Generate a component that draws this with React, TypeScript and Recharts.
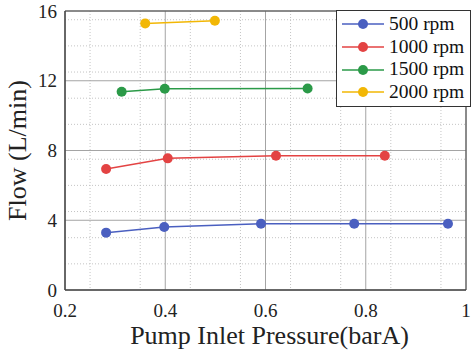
import React from "react";
import {
  CartesianGrid,
  Line,
  LineChart,
  ReferenceArea,
  XAxis,
  YAxis,
} from "recharts";

// Flow vs. pump inlet pressure at four pump speeds.
const rpm500 = [
  { x: 0.282, y: 3.29 },
  { x: 0.398, y: 3.61 },
  { x: 0.591, y: 3.8 },
  { x: 0.777, y: 3.8 },
  { x: 0.964, y: 3.8 },
];
const rpm1000 = [
  { x: 0.282, y: 6.94 },
  { x: 0.405, y: 7.55 },
  { x: 0.621, y: 7.7 },
  { x: 0.838, y: 7.7 },
];
const rpm1500 = [
  { x: 0.313, y: 11.37 },
  { x: 0.399, y: 11.54 },
  { x: 0.684, y: 11.56 },
];
const rpm2000 = [
  { x: 0.36, y: 15.29 },
  { x: 0.499, y: 15.44 },
];

const xTicks = [0.2, 0.4, 0.6, 0.8, 1];
const yTicks = [0, 4, 8, 12, 16];
const xMinor = [0.25, 0.3, 0.35, 0.45, 0.5, 0.55, 0.65, 0.7, 0.75, 0.85, 0.9, 0.95];
const yMinor = [
  0.5, 1, 1.5, 2, 2.5, 3, 3.5, 4.5, 5, 5.5, 6, 6.5, 7, 7.5, 8.5, 9, 9.5, 10,
  10.5, 11, 11.5, 12.5, 13, 13.5, 14, 14.5, 15, 15.5,
];

const series = [
  { name: "500 rpm", data: rpm500, color: "#4a5fc0" },
  { name: "1000 rpm", data: rpm1000, color: "#e34343" },
  { name: "1500 rpm", data: rpm1500, color: "#2b9a48" },
  { name: "2000 rpm", data: rpm2000, color: "#f2b705" },
];

const FONT = "Liberation Serif";

function LegendBox() {
  return (
    <div
      style={{
        position: "absolute",
        left: 336,
        top: 10,
        width: 128,
        border: "1px solid #333",
        background: "#fff",
        padding: "2px 0 2px 5px",
        fontFamily: FONT,
        fontSize: 19.5,
        lineHeight: "22.7px",
        color: "#111",
        boxSizing: "content-box",
      }}
    >
      {series.map((s) => (
        <div key={s.name} style={{ display: "flex", alignItems: "center" }}>
          <svg width={42} height={12} style={{ marginRight: 5, flex: "none" }}>
            <line x1={0} y1={6} x2={42} y2={6} stroke={s.color} strokeWidth={1.5} />
            <circle cx={21} cy={6} r={5} fill={s.color} />
          </svg>
          <span>{s.name}</span>
        </div>
      ))}
    </div>
  );
}

export default function App() {
  return (
    <div
      style={{
        position: "absolute",
        left: 0,
        top: 0,
        width: 472,
        height: 351,
        background: "#fff",
        fontFamily: FONT,
      }}
    >
      <LineChart
        width={472}
        height={351}
        margin={{ top: 11, right: 6, bottom: 0, left: 0 }}
      >
        <CartesianGrid
          stroke="#c4c4c4"
          strokeDasharray="1 2"
          verticalValues={xMinor}
          horizontalValues={yMinor}
        />
        <CartesianGrid
          stroke="#a4a4a4"
          verticalValues={xTicks}
          horizontalValues={yTicks}
        />
        <XAxis
          type="number"
          dataKey="x"
          domain={[0.2, 1]}
          ticks={xTicks}
          allowDataOverflow
          height={61}
          tickLine={false}
          axisLine={{ stroke: "#444" }}
          tickMargin={8}
          tick={{ fontSize: 19, fill: "#222", fontFamily: FONT }}
          tickFormatter={(v: number) => String(v)}
          label={{
            value: "Pump Inlet Pressure(barA)",
            position: "insideBottom",
            offset: 7,
            dx: 4,
            fontSize: 26,
            fill: "#222",
            fontFamily: FONT,
          }}
        />
        <YAxis
          type="number"
          dataKey="y"
          domain={[0, 16]}
          ticks={yTicks}
          width={65}
          tickLine={false}
          axisLine={{ stroke: "#444" }}
          tickMargin={2}
          tick={{ fontSize: 19, fill: "#222", fontFamily: FONT }}
          label={{
            value: "Flow (L/min)",
            angle: -90,
            position: "insideLeft",
            offset: 17,
            style: { textAnchor: "middle" },
            fontSize: 26,
            fill: "#222",
            fontFamily: FONT,
          }}
        />
        <ReferenceArea
          x1={0.2}
          x2={1}
          y1={0}
          y2={16}
          fill="none"
          stroke="#444"
          strokeWidth={1}
        />
        {series.map((s) => (
          <Line
            key={s.name}
            data={s.data}
            dataKey="y"
            name={s.name}
            type="linear"
            stroke={s.color}
            strokeWidth={1.5}
            dot={{ r: 5, fill: s.color, stroke: s.color, strokeWidth: 0 }}
            isAnimationActive={false}
          />
        ))}
      </LineChart>
      <LegendBox />
    </div>
  );
}
